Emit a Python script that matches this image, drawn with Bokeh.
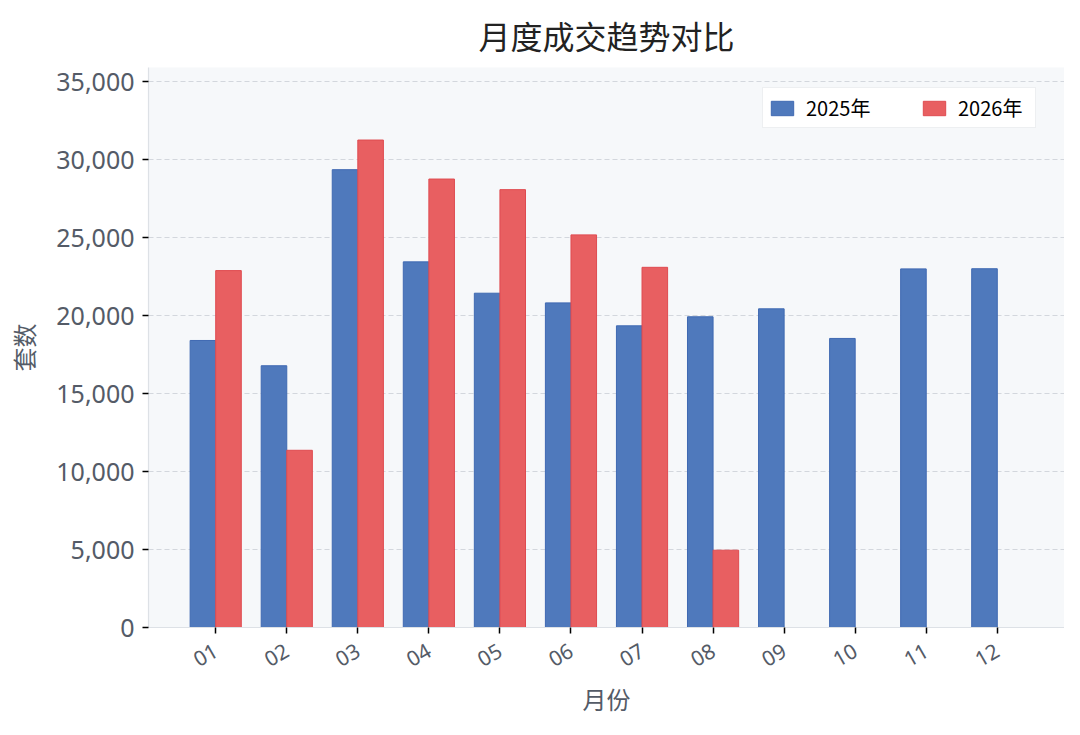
import numpy as np
from math import pi
from bokeh.plotting import figure
from bokeh.models import (ColumnDataSource, Legend, LegendItem, Range1d,
                          FixedTicker, NumeralTickFormatter)
from bokeh.embed import file_html
from bokeh.resources import INLINE

title_text = "月度成交趋势对比"
months = ["01", "02", "03", "04", "05", "06", "07", "08", "09", "10", "11", "12"]
sales_2025 = [18400, 16780, 29350, 23440, 21430, 20810, 19340, 19920, 20430, 18530, 22990, 23000]
sales_2026 = [22880, 11360, 31250, 28750, 28070, 25170, 23090, 4955]
y_ticks = [0, 5000, 10000, 15000, 20000, 25000, 30000, 35000]

CJK = "Noto Sans CJK SC"
LAT = "Noto Sans"
BAR_W = 0.36

x25 = np.arange(len(sales_2025))
x26 = np.arange(len(sales_2026))
src25 = ColumnDataSource(dict(x=x25 - BAR_W / 2, top=sales_2025))
src26 = ColumnDataSource(dict(x=x26 + BAR_W / 2, top=sales_2026))

p = figure(width=1064, height=719, output_backend="svg", toolbar_location=None,
           x_range=Range1d(-0.946, len(months) - 1 + 0.946),
           y_range=Range1d(0, 35900),
           min_border_left=148, min_border_right=0, min_border_top=67,
           min_border_bottom=92)

p.background_fill_color = "#f6f8fa"
p.border_fill_color = "white"
p.outline_line_color = None

r25 = p.vbar(x="x", top="top", width=BAR_W, source=src25,
             fill_color="#4f79bc", line_color="#3f69b2", line_width=1)
r26 = p.vbar(x="x", top="top", width=BAR_W, source=src26,
             fill_color="#e85f61", line_color="#df4b50", line_width=1)

# title
p.title.text = title_text
p.title.align = "center"
p.title.vertical_align = "bottom"
p.title.text_font = CJK
p.title.text_font_size = "32px"
p.title.text_font_style = "normal"
p.title.text_color = "#222222"
p.title.standoff = 19

# grid
p.xgrid.grid_line_color = None
p.ygrid.grid_line_color = "#d3d7dd"
p.ygrid.grid_line_dash = "5 3"
p.ygrid.grid_line_width = 1

# axes
for ax in (p.xaxis, p.yaxis):
    ax.axis_line_color = "#dde1e6"
    ax.axis_line_width = 1.2
    ax.major_tick_line_color = "black"
    ax.major_tick_line_width = 1.5
    ax.major_tick_out = 6
    ax.major_tick_in = 0
    ax.minor_tick_line_color = None
    ax.major_label_text_font = LAT
    ax.major_label_text_color = "#545b67"
    ax.axis_label_text_font = CJK
    ax.axis_label_text_color = "#545b67"
    ax.axis_label_text_font_style = "normal"
    ax.axis_label_text_font_size = "24px"

p.yaxis.ticker = FixedTicker(ticks=y_ticks)
p.yaxis.formatter = NumeralTickFormatter(format="0,0")
p.yaxis.major_label_text_font_size = "25px"
p.yaxis.major_label_standoff = 8
p.yaxis.axis_label = "套数"
p.yaxis.axis_label_standoff = 12

p.xaxis.ticker = FixedTicker(ticks=list(range(len(months))))
p.xaxis.major_label_overrides = {i: m for i, m in enumerate(months)}
p.xaxis.major_label_orientation = pi / 6
p.xaxis.major_label_text_font_size = "21px"
p.xaxis.major_label_standoff = 15
p.xaxis.axis_label = "月份"
p.xaxis.axis_label_standoff = 4

legend = Legend(items=[LegendItem(label="2025年", renderers=[r25]),
                       LegendItem(label="2026年", renderers=[r26])],
                orientation="horizontal", location=(614, 499), margin=0,
                padding=5, spacing=42, glyph_width=28, glyph_height=18,
                label_standoff=10, label_height=22, label_width=72,
                label_text_font=CJK, label_text_font_size="20px",
                label_text_color="black",
                border_line_color="#dcdfe3", border_line_width=1,
                background_fill_color="white", background_fill_alpha=1)
p.add_layout(legend)

open("out.html", "w").write(file_html(p, INLINE))
